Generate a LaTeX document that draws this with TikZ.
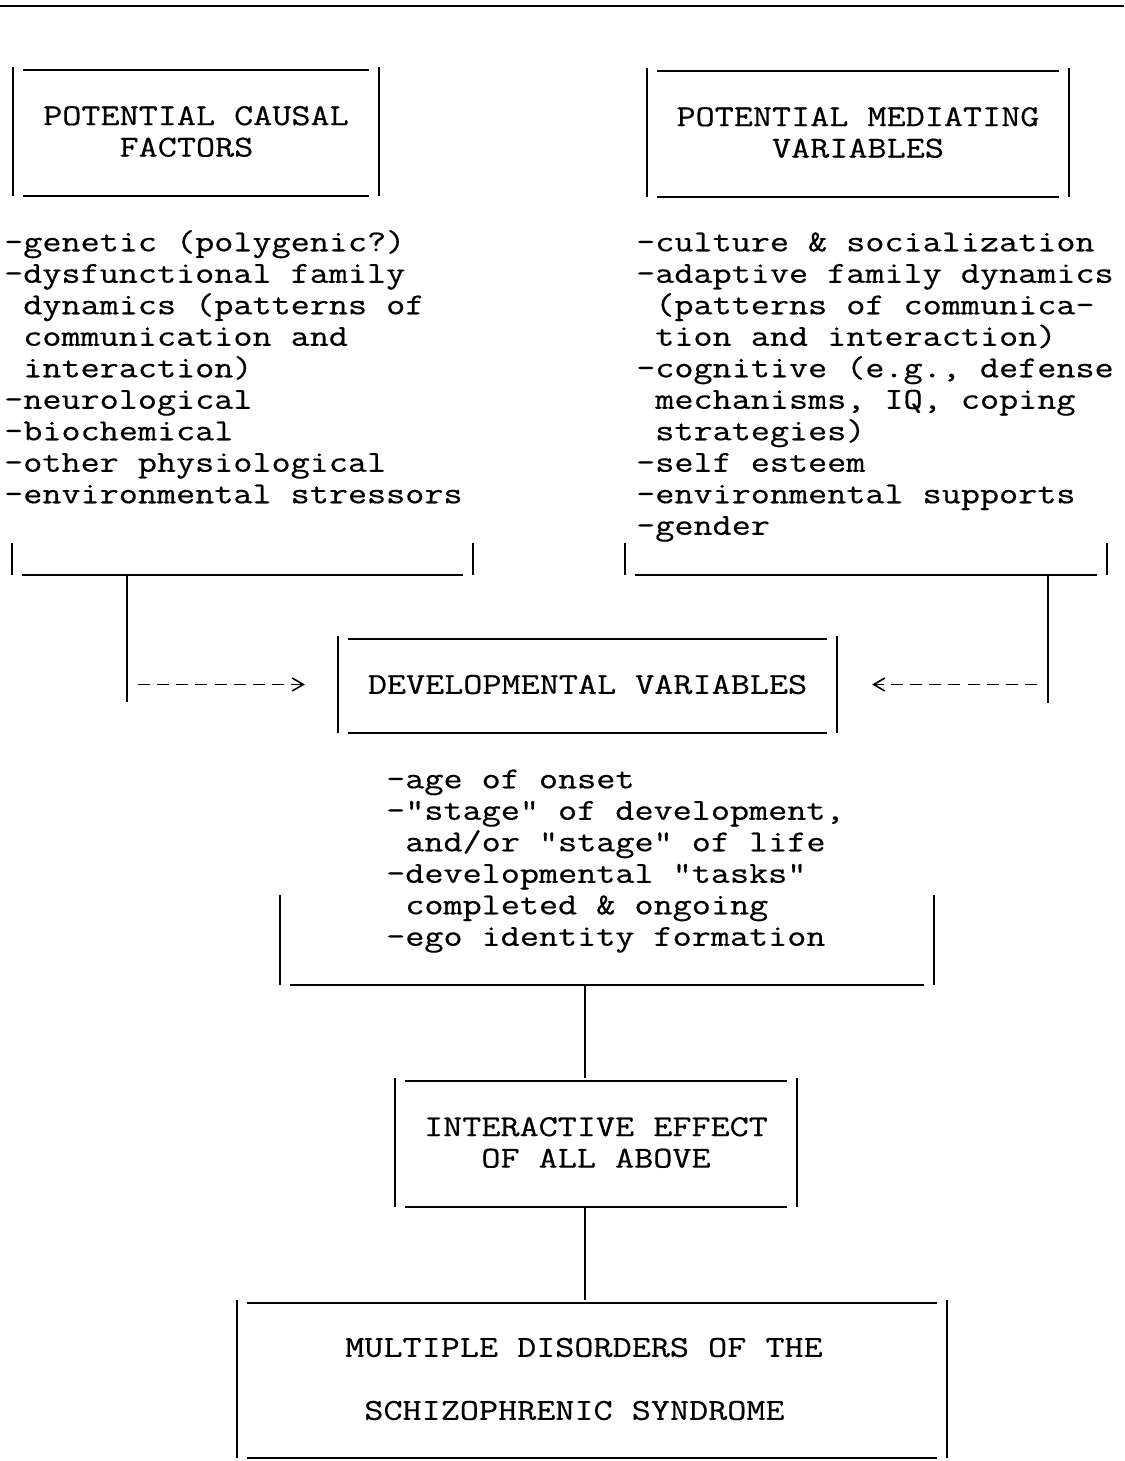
\documentclass[tikz,border=0pt]{standalone}
\usepackage{fontspec}
\setmonofont[FakeStretch=1.22, FakeBold=0.5]{Latin Modern Mono}
\usetikzlibrary{arrows.meta}

% typewriter boxes: bars on the sides, rules set a little inside
\newcommand{\typebox}[1]{%
  \draw[boxline] (#1.north west) -- (#1.south west)
    (#1.north east) -- (#1.south east)
    ([shift={(10,3)}]#1.north west) -- ([shift={(-10,3)}]#1.north east)
    ([xshift=10pt]#1.south west) -- ([xshift=-10pt]#1.south east);}
\newcommand{\typebracket}[1]{%
  \draw[boxline] (#1.north west) -- (#1.south west)
    (#1.north east) -- (#1.south east)
    ([xshift=10pt]#1.south west) -- ([xshift=-10pt]#1.south east);}

\begin{document}
\begin{tikzpicture}[
    x=1pt, y=-1pt,
    boxline/.style={line width=2pt},
    typefont/.style={font=\ttfamily\fontsize{30.4}{31.5}\selectfont},
    header/.style={typefont, inner sep=0pt, align=left},
    listtext/.style={typefont, inner sep=0pt, align=left, anchor=north west},
    typebr/.style={inner sep=0pt, minimum height=32pt},
    dasharrow/.style={line width=1.6pt, dash pattern=on 12pt off 7.15pt, -{Straight Barb[length=11pt, width=13pt]}}
    ]
    \useasboundingbox (0,0) rectangle (1124,1461);

    % Rule across the top
    \draw[boxline] (0,6) -- (1124,6);

    % Potential causal factors
    \node[header, minimum width=366pt, minimum height=129pt] (causal) at (196,131.5) {POTENTIAL CAUSAL\\\hphantom{XXXX}FACTORS};
    \typebox{causal}
    \node[listtext] (causallist) at (4,229) {\strut-genetic (polygenic?)\\-dysfunctional family\\\hphantom{-}dynamics (patterns of\\\hphantom{-}communication and\\\hphantom{-}interaction)\\-neurological\\-biochemical\\-other physiological\\-environmental stressors};
    \node[typebr, minimum width=461pt] (causalbr) at (242.5,559) {};
    \typebracket{causalbr}

    % Potential mediating variables
    \node[header, minimum width=422pt, minimum height=129pt] (mediating) at (858,132.5) {POTENTIAL MEDIATING\\\hphantom{XXXXX}VARIABLES};
    \typebox{mediating}
    \node[listtext] (medlist) at (636,229) {\strut-culture \& socialization\\-adaptive family dynamics\\\hphantom{-}(patterns of communica-\\\hphantom{-}tion and interaction)\\-cognitive (e.g., defense\\\hphantom{-}mechanisms, IQ, coping\\\hphantom{-}strategies)\\-self esteem\\-environmental supports\\-gender};
    \node[typebr, minimum width=482pt] (medbr) at (866,559) {};
    \typebracket{medbr}

    % Developmental variables
    \node[header, minimum width=499pt, minimum height=97pt] (dev) at (587.5,684.5) {DEVELOPMENTAL VARIABLES};
    \typebox{dev}
    \node[listtext] (devlist) at (386,766) {\strut-age of onset\\-"stage" of development,\\\hphantom{-}and/or "stage" of life\\-developmental "tasks"\\\hphantom{-}completed \& ongoing\\-ego identity formation};
    \node[typebr, minimum width=654pt, minimum height=90pt] (devbr) at (607,940) {};
    \typebracket{devbr}

    % Interactive effect
    \node[header, minimum width=402pt, minimum height=129pt] (inter) at (596,1142.5) {INTERACTIVE EFFECT\\\hphantom{XXX}OF ALL ABOVE};
    \typebox{inter}

    % Multiple disorders
    \node[header, minimum width=710pt, minimum height=158pt] (multi) at (592,1379) {MULTIPLE DISORDERS OF THE\hspace*{16pt}\\[31.5pt]\hphantom{X}SCHIZOPHRENIC SYNDROME};
    \typebox{multi}

    % Causal and mediating lines into the developmental box
    \coordinate (lturn) at (127,702);
    \coordinate (rturn) at (1048,703);
    \draw[boxline] (causalbr.south -| lturn) -- (lturn);
    \draw[dasharrow, shorten <=11pt, shorten >=33pt] (lturn |- dev.west) -- (dev.west);
    \draw[boxline] (medbr.south -| rturn) -- (rturn);
    \draw[dasharrow, shorten <=11pt, shorten >=35pt] (rturn |- dev.east) -- (dev.east);

    % Trunk down the middle
    \coordinate (trunk) at (585,1000);
    \draw[boxline] (devbr.south -| trunk) -- (inter.north -| trunk);
    \draw[boxline] (inter.south -| trunk) -- (multi.north -| trunk);

\end{tikzpicture}
\end{document}
